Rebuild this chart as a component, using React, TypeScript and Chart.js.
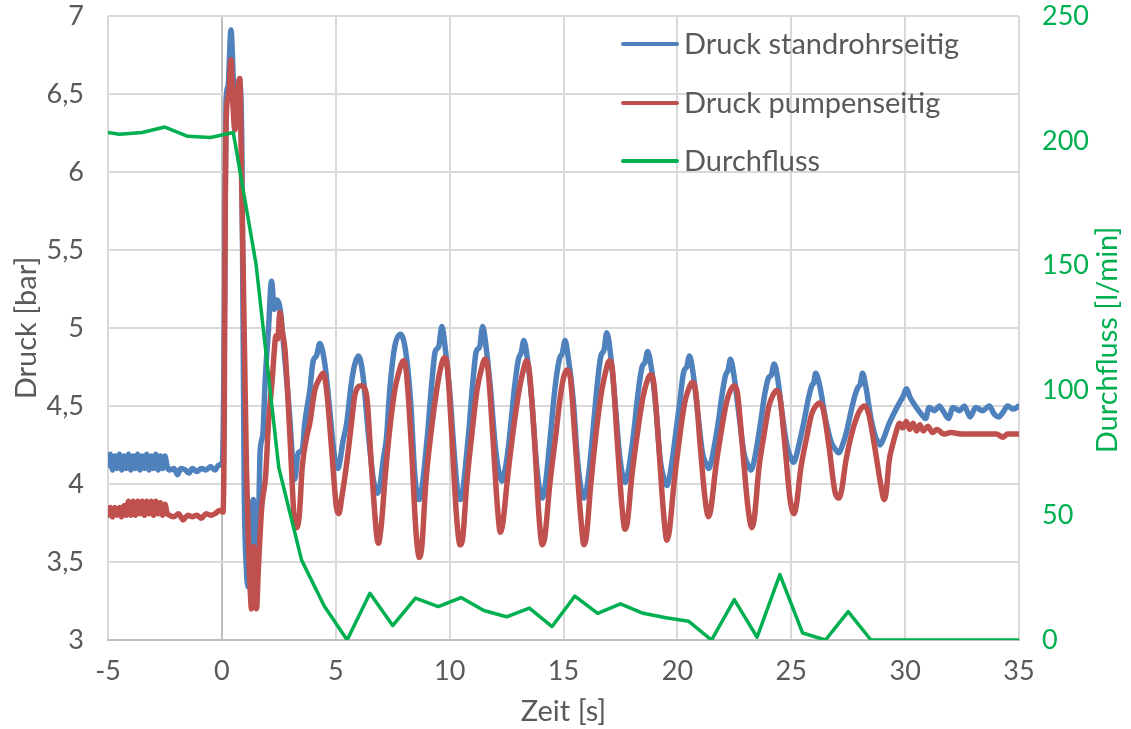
import React, { useEffect, useRef } from "react";
import { Chart, registerables } from "chart.js";

Chart.register(...registerables);

const SERIES_NAMES = ["Druck standrohrseitig", "Druck pumpenseitig", "Durchfluss"];
const SERIES_COLORS = ["#4F81BD", "#C0504D", "#00B050"];
const X_TITLE = "Zeit [s]";
const Y_LEFT_TITLE = "Druck [bar]";
const Y_RIGHT_TITLE = "Durchfluss [l/min]";

// [Zeit s, Druck bar]
const druckStandrohr: number[][] = [
  [-5, 4.12], [-4.9, 4.19], [-4.8, 4.09], [-4.7, 4.18], [-4.6, 4.1], [-4.5, 4.19], [-4.4, 4.09], [-4.3, 4.18], [-4.2, 4.1], [-4.1, 4.19],
  [-4, 4.09], [-3.9, 4.18], [-3.8, 4.1], [-3.7, 4.19], [-3.6, 4.09], [-3.5, 4.18], [-3.4, 4.1], [-3.3, 4.19], [-3.2, 4.09], [-3.1, 4.18],
  [-3, 4.1], [-2.9, 4.19], [-2.8, 4.09], [-2.7, 4.18], [-2.6, 4.1], [-2.5, 4.18], [-2.4, 4.11], [-2.3, 4.09], [-2.1, 4.1], [-1.95, 4.06],
  [-1.8, 4.1], [-1.6, 4.09], [-1.45, 4.07], [-1.3, 4.1], [-1.1, 4.08], [-0.9, 4.1], [-0.7, 4.09], [-0.5, 4.11], [-0.3, 4.09], [-0.15, 4.12],
  [0.02, 4.14], [0.12, 5.2], [0.18, 6.45], [0.27, 6.55], [0.4, 6.91], [0.5, 6.6], [0.6, 6.3], [0.7, 6.4], [0.8, 6.55], [0.88, 6.1],
  [0.98, 4.0], [1.08, 3.45], [1.16, 3.34], [1.27, 3.75], [1.38, 3.9], [1.48, 3.62], [1.58, 3.6], [1.68, 4.21], [1.8, 4.32], [1.9, 4.66],
  [2.05, 5.0], [2.18, 5.3], [2.3, 5.12], [2.42, 5.18], [2.55, 5.13], [2.77, 4.79], [2.98, 4.43], [3.12, 4.12], [3.2, 4.03], [3.35, 4.2],
  [3.53, 4.22], [3.64, 4.39], [3.86, 4.6], [4.01, 4.79], [4.15, 4.82], [4.3, 4.9], [4.52, 4.77], [4.74, 4.47], [4.92, 4.2], [5.02, 4.12],
  [5.1, 4.1], [5.2, 4.16], [5.3, 4.26], [5.48, 4.39], [5.69, 4.65], [5.84, 4.77], [6.0, 4.82], [6.2, 4.69], [6.42, 4.34], [6.62, 4.06],
  [6.73, 3.97], [6.83, 3.94], [6.95, 4.0], [7.08, 4.15], [7.23, 4.3], [7.37, 4.6], [7.59, 4.88], [7.85, 4.96], [8.1, 4.82], [8.3, 4.5],
  [8.45, 4.1], [8.55, 3.95], [8.65, 3.9], [8.77, 3.96], [8.9, 4.12], [9.05, 4.35], [9.2, 4.62], [9.37, 4.85], [9.52, 4.88], [9.66, 5.01],
  [9.8, 4.88], [10.0, 4.6], [10.2, 4.2], [10.35, 3.95], [10.46, 3.9], [10.58, 3.96], [10.7, 4.12], [10.85, 4.35], [11.0, 4.62], [11.17, 4.85],
  [11.32, 4.88], [11.45, 5.01], [11.6, 4.88], [11.8, 4.6], [12.0, 4.25], [12.17, 4.07], [12.3, 4.02], [12.42, 4.08], [12.55, 4.2], [12.7, 4.4],
  [12.85, 4.62], [13.02, 4.8], [13.14, 4.84], [13.26, 4.92], [13.4, 4.82], [13.6, 4.55], [13.8, 4.15], [13.95, 3.96], [14.06, 3.91], [14.18, 3.97],
  [14.3, 4.12], [14.45, 4.35], [14.63, 4.62], [14.82, 4.8], [14.95, 4.84], [15.07, 4.92], [15.2, 4.82], [15.42, 4.55], [15.62, 4.15], [15.78, 3.96],
  [15.9, 3.91], [16.02, 3.97], [16.15, 4.12], [16.3, 4.35], [16.47, 4.62], [16.64, 4.82], [16.78, 4.86], [16.9, 4.97], [17.05, 4.85], [17.25, 4.55],
  [17.45, 4.2], [17.6, 4.05], [17.7, 4.01], [17.82, 4.06], [17.95, 4.18], [18.1, 4.35], [18.27, 4.58], [18.45, 4.75], [18.58, 4.78], [18.7, 4.85],
  [18.85, 4.75], [19.05, 4.5], [19.25, 4.15], [19.42, 4.03], [19.54, 3.99], [19.66, 4.05], [19.8, 4.18], [19.95, 4.35], [20.1, 4.52], [20.28, 4.72],
  [20.41, 4.75], [20.53, 4.82], [20.68, 4.72], [20.9, 4.45], [21.1, 4.2], [21.26, 4.13], [21.38, 4.1], [21.5, 4.15], [21.63, 4.25], [21.8, 4.4],
  [21.96, 4.57], [22.12, 4.7], [22.23, 4.73], [22.33, 4.8], [22.48, 4.7], [22.7, 4.45], [22.92, 4.2], [23.1, 4.12], [23.24, 4.09], [23.36, 4.14],
  [23.5, 4.25], [23.66, 4.4], [23.83, 4.57], [24.0, 4.68], [24.13, 4.7], [24.25, 4.77], [24.4, 4.68], [24.6, 4.45], [24.82, 4.24], [24.98, 4.17],
  [25.1, 4.14], [25.22, 4.18], [25.38, 4.28], [25.56, 4.4], [25.74, 4.54], [25.9, 4.63], [25.99, 4.65], [26.07, 4.71], [26.25, 4.63], [26.5, 4.42],
  [26.75, 4.27], [26.95, 4.22], [27.1, 4.2], [27.25, 4.25], [27.42, 4.33], [27.6, 4.45], [27.78, 4.56], [27.93, 4.62], [28.03, 4.64], [28.13, 4.71],
  [28.28, 4.62], [28.5, 4.42], [28.68, 4.31], [28.8, 4.27], [28.9, 4.25], [29.05, 4.29], [29.25, 4.37], [29.5, 4.45], [29.75, 4.52], [29.9, 4.56],
  [30.06, 4.61], [30.2, 4.56], [30.45, 4.5], [30.7, 4.45], [30.9, 4.42], [31.05, 4.49], [31.3, 4.47], [31.5, 4.5], [31.7, 4.46], [31.9, 4.42],
  [32.1, 4.49], [32.4, 4.47], [32.6, 4.5], [32.85, 4.43], [33.1, 4.49], [33.4, 4.47], [33.7, 4.5], [33.9, 4.45], [34.1, 4.43], [34.3, 4.46],
  [34.5, 4.5], [34.75, 4.48], [35, 4.5],
];

// [Zeit s, Druck bar]
const druckPumpe: number[][] = [
  [-5, 3.8], [-4.9, 3.85], [-4.8, 3.79], [-4.7, 3.85], [-4.6, 3.8], [-4.5, 3.85], [-4.4, 3.79], [-4.3, 3.86], [-4.2, 3.8], [-4.1, 3.89],
  [-4, 3.8], [-3.9, 3.89], [-3.8, 3.8], [-3.7, 3.89], [-3.6, 3.81], [-3.5, 3.89], [-3.4, 3.8], [-3.3, 3.89], [-3.2, 3.81], [-3.1, 3.89],
  [-3, 3.8], [-2.9, 3.89], [-2.8, 3.81], [-2.7, 3.88], [-2.6, 3.8], [-2.5, 3.87], [-2.4, 3.81], [-2.3, 3.8], [-2.1, 3.79], [-1.9, 3.81],
  [-1.7, 3.77], [-1.5, 3.8], [-1.3, 3.79], [-1.1, 3.8], [-0.9, 3.78], [-0.7, 3.81], [-0.5, 3.8], [-0.3, 3.81], [-0.1, 3.83], [0.05, 3.82],
  [0.1, 4.3], [0.15, 5.8], [0.2, 6.38], [0.3, 6.5], [0.4, 6.72], [0.48, 6.45], [0.57, 6.27], [0.65, 6.35], [0.72, 6.55], [0.79, 6.6],
  [0.85, 6.1], [0.92, 5.5], [1.0, 4.8], [1.08, 4.1], [1.17, 3.6], [1.25, 3.3], [1.3, 3.2], [1.36, 3.45], [1.4, 3.6], [1.45, 3.3],
  [1.52, 3.2], [1.6, 3.45], [1.75, 3.85], [1.92, 4.05], [2.05, 4.4], [2.2, 4.65], [2.3, 4.85], [2.37, 4.95], [2.45, 4.93], [2.55, 5.1],
  [2.65, 4.98], [2.77, 4.86], [2.98, 4.33], [3.18, 3.77], [3.28, 3.72], [3.4, 3.8], [3.53, 4.11], [3.72, 4.3], [3.86, 4.39], [4.08, 4.6],
  [4.3, 4.68], [4.45, 4.71], [4.6, 4.6], [4.82, 4.22], [5.03, 3.85], [5.14, 3.81], [5.25, 3.9], [5.48, 4.13], [5.69, 4.39], [5.84, 4.57],
  [6.13, 4.63], [6.35, 4.57], [6.57, 4.11], [6.79, 3.68], [6.87, 3.62], [7.01, 3.75], [7.16, 4.03], [7.37, 4.35], [7.59, 4.6], [7.74, 4.7],
  [7.98, 4.79], [8.1, 4.72], [8.33, 4.22], [8.52, 3.7], [8.67, 3.53], [8.78, 3.6],
  [8.95, 4.0], [9.2, 4.35], [9.45, 4.62], [9.6, 4.74], [9.77, 4.81], [9.9, 4.75], [10.1, 4.3], [10.3, 3.8], [10.46, 3.61], [10.58, 3.66],
  [10.75, 4.0], [11.0, 4.35], [11.2, 4.6], [11.4, 4.74], [11.55, 4.8], [11.68, 4.74], [11.9, 4.3], [12.1, 3.85], [12.23, 3.69], [12.33, 3.74],
  [12.55, 4.05], [12.8, 4.35], [13.05, 4.6], [13.22, 4.72], [13.38, 4.79], [13.5, 4.72], [13.72, 4.3], [13.92, 3.8], [14.07, 3.61], [14.18, 3.66],
  [14.4, 4.0], [14.65, 4.3], [14.85, 4.55], [15.0, 4.68], [15.15, 4.73], [15.3, 4.68], [15.5, 4.3], [15.75, 3.8], [15.9, 3.61], [16.0, 3.66],
  [16.2, 4.0], [16.45, 4.35], [16.68, 4.6], [16.85, 4.72], [17.02, 4.79], [17.15, 4.73], [17.35, 4.3], [17.57, 3.85], [17.7, 3.71], [17.8, 3.75],
  [18.0, 4.05], [18.25, 4.33], [18.48, 4.55], [18.65, 4.65], [18.83, 4.7], [18.97, 4.64], [19.18, 4.25], [19.4, 3.8], [19.54, 3.64], [19.64, 3.69],
  [19.85, 4.0], [20.1, 4.3], [20.32, 4.52], [20.5, 4.61], [20.66, 4.65], [20.8, 4.6], [21.0, 4.25], [21.22, 3.9], [21.36, 3.79], [21.46, 3.83],
  [21.68, 4.1], [21.92, 4.33], [22.15, 4.52], [22.33, 4.6], [22.5, 4.63], [22.64, 4.58], [22.85, 4.25], [23.1, 3.85], [23.27, 3.72], [23.37, 3.77],
  [23.58, 4.1], [23.82, 4.33], [24.02, 4.5], [24.2, 4.57], [24.35, 4.6], [24.5, 4.56], [24.72, 4.25], [24.95, 3.9], [25.12, 3.81], [25.22, 3.86],
  [25.42, 4.1], [25.68, 4.3], [25.9, 4.45], [26.08, 4.5], [26.25, 4.52], [26.4, 4.48], [26.65, 4.25], [26.92, 3.95], [27.1, 3.91], [27.2, 3.95],
  [27.4, 4.15], [27.65, 4.32], [27.88, 4.43], [28.05, 4.48], [28.23, 4.5], [28.4, 4.45], [28.65, 4.25], [28.95, 3.98], [29.08, 3.9], [29.17, 3.95],
  [29.3, 4.15], [29.45, 4.25], [29.6, 4.33], [29.76, 4.39], [29.9, 4.36], [30.05, 4.4], [30.2, 4.35], [30.35, 4.39], [30.5, 4.34], [30.65, 4.38],
  [30.8, 4.34], [31.0, 4.37], [31.2, 4.33], [31.4, 4.35], [31.7, 4.32], [32.0, 4.33], [32.5, 4.32], [33, 4.32], [33.5, 4.32], [34, 4.32],
  [34.3, 4.3], [34.5, 4.32], [35, 4.32],
];

// [Zeit s, Durchfluss l/min]
const durchfluss: number[][] = [
  [-5, 203.3], [-4.5, 202.6], [-3.5, 203.3], [-2.5, 205.5], [-1.5, 201.8], [-0.5, 201.3], [0.5, 203.3], [1.5, 150.6], [2.5, 69], [3.5, 32],
  [4.5, 13.5], [5.5, 0], [6.5, 18.7], [7.5, 5.8], [8.5, 16.8], [9.5, 13.4], [10.5, 17], [11.5, 11.8], [12.5, 9.3], [13.5, 12.8],
  [14.5, 5.4], [15.5, 17.6], [16.5, 10.7], [17.5, 14.5], [18.5, 10.7], [19.5, 8.9], [20.5, 7.5], [21.5, 0], [22.5, 16.2], [23.5, 1.1],
  [24.5, 26.2], [25.5, 2.8], [26.5, 0], [27.5, 11.4], [28.5, 0], [29.5, 0], [30.5, 0], [31.5, 0], [32.5, 0], [33.5, 0], [34.5, 0], [35, 0],
];

const FONT = "Lato, 'Open Sans', sans-serif";
const TEXT = "#595959";
const GRID = "#D9D9D9";
const AXIS = "#BFBFBF";

const zeroPadding = (s: any) => {
  s.paddingTop = 0;
  s.paddingBottom = 0;
  s.paddingLeft = 0;
  s.paddingRight = 0;
};

export default function App() {
  const ref = useRef<HTMLCanvasElement>(null);

  useEffect(() => {
    const canvas = ref.current;
    if (!canvas) return;
    const toXY = (arr: number[][]) => arr.map(([x, y]) => ({ x, y }));

    const overlay = {
      id: "overlay",
      afterDraw(chart: any) {
        const ctx = chart.ctx as CanvasRenderingContext2D;
        const area = chart.chartArea;
        ctx.save();
        // legend
        const legendX = 623;
        const legendY = [44, 103, 161];
        ctx.font = `29px ${FONT}`;
        ctx.textBaseline = "middle";
        ctx.textAlign = "left";
        SERIES_NAMES.forEach((name, i) => {
          ctx.strokeStyle = SERIES_COLORS[i];
          ctx.lineWidth = 4;
          ctx.lineCap = "round";
          ctx.beginPath();
          ctx.moveTo(legendX, legendY[i]);
          ctx.lineTo(legendX + 54, legendY[i]);
          ctx.stroke();
          ctx.fillStyle = TEXT;
          ctx.fillText(name, legendX + 61, legendY[i] + 1);
        });
        // axis titles
        ctx.textAlign = "center";
        ctx.fillStyle = TEXT;
        ctx.font = `29px ${FONT}`;
        ctx.fillText(X_TITLE, (area.left + area.right) / 2, 712);
        ctx.save();
        ctx.translate(27, (area.top + area.bottom) / 2);
        ctx.rotate(-Math.PI / 2);
        ctx.fillText(Y_LEFT_TITLE, 0, 0);
        ctx.restore();
        ctx.save();
        ctx.fillStyle = SERIES_COLORS[2];
        ctx.translate(1108, (area.top + area.bottom) / 2 + 12);
        ctx.rotate(-Math.PI / 2);
        ctx.fillText(Y_RIGHT_TITLE, 0, 0);
        ctx.restore();
        ctx.restore();
      },
    };

    const lineBase = {
      pointRadius: 0,
      pointHoverRadius: 0,
      borderJoinStyle: "round",
      borderCapStyle: "round",
      fill: false,
    };

    const chart = new Chart(canvas, {
      type: "line",
      data: {
        datasets: [
          {
            ...lineBase,
            label: SERIES_NAMES[0],
            data: toXY(druckStandrohr),
            borderColor: SERIES_COLORS[0],
            borderWidth: 5.5,
            cubicInterpolationMode: "monotone",
            yAxisID: "y",
            order: 2,
          },
          {
            ...lineBase,
            label: SERIES_NAMES[1],
            data: toXY(druckPumpe),
            borderColor: SERIES_COLORS[1],
            borderWidth: 5.5,
            cubicInterpolationMode: "monotone",
            yAxisID: "y",
            order: 1,
          },
          {
            ...lineBase,
            label: SERIES_NAMES[2],
            data: toXY(durchfluss),
            borderColor: SERIES_COLORS[2],
            borderWidth: 3.5,
            tension: 0,
            yAxisID: "y1",
            order: 0,
          },
        ] as any,
      },
      options: {
        responsive: false,
        animation: false,
        devicePixelRatio: 1,
        parsing: false as any,
        normalized: true,
        layout: { padding: { top: 16, left: 0, right: 0, bottom: 0 } },
        plugins: {
          legend: { display: false },
          tooltip: { enabled: false },
        },
        scales: {
          x: {
            type: "linear",
            min: -5,
            max: 35,
            ticks: {
              stepSize: 5,
              color: TEXT,
              font: { family: FONT, size: 27 },
              padding: 15,
              maxRotation: 0,
              callback: (v: any) => String(v),
            },
            grid: {
              color: (c: any) => (c.tick && c.tick.value === 0 ? AXIS : GRID),
              lineWidth: 2,
              drawTicks: false,
            },
            border: { color: AXIS, width: 2 },
            afterFit: (s: any) => {
              s.height = 89;
              zeroPadding(s);
            },
          },
          y: {
            type: "linear",
            position: "left",
            min: 3,
            max: 7,
            ticks: {
              stepSize: 0.5,
              color: TEXT,
              font: { family: FONT, size: 27 },
              padding: 24,
              callback: (v: any) => String(v).replace(".", ","),
            },
            grid: { color: GRID, lineWidth: 2, drawTicks: false },
            border: { display: false },
            afterFit: (s: any) => {
              s.width = 108;
              zeroPadding(s);
            },
          },
          y1: {
            type: "linear",
            position: "right",
            min: 0,
            max: 250,
            ticks: {
              stepSize: 50,
              color: SERIES_COLORS[2],
              font: { family: FONT, size: 27 },
              padding: 23,
            },
            grid: { drawOnChartArea: false, drawTicks: false },
            border: { display: false },
            afterFit: (s: any) => {
              s.width = 112;
              zeroPadding(s);
            },
          },
        },
      } as any,
      plugins: [overlay],
    });

    return () => chart.destroy();
  }, []);

  return (
    <div style={{ position: "fixed", left: 0, top: 0, width: 1131, height: 729, background: "#ffffff" }}>
      <canvas ref={ref} width={1131} height={729} style={{ display: "block" }} />
    </div>
  );
}
